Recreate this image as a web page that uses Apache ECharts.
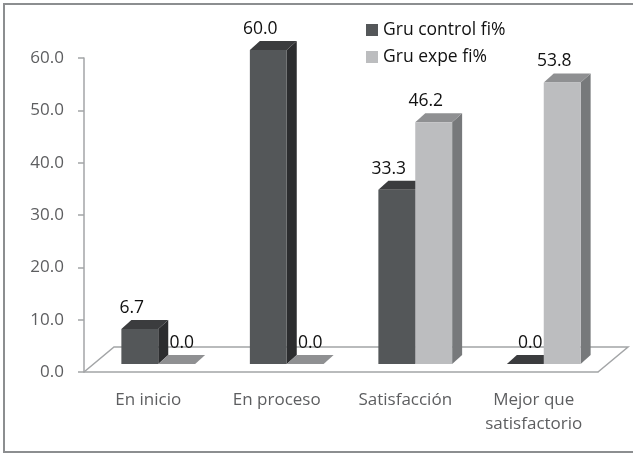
<!DOCTYPE html>
<html>
<head>
<meta charset="utf-8">
<script src="https://cdn.jsdelivr.net/npm/echarts@6/dist/echarts.min.js"></script>
<style>
html,body{margin:0;padding:0;background:#fff;}
#chart{width:633px;height:459px;}
</style>
</head>
<body>
<div id="chart"></div>
<script>
const categories = ['En inicio', 'En proceso', 'Satisfacción', 'Mejor que\nsatisfactorio'];
const seriesNames = ['Gru control fi%', 'Gru expe fi%'];
const controlValues = [6.7, 60.0, 33.3, 0.0];
const expeValues = [0.0, 0.0, 46.2, 53.8];
const yTicks = [0, 10, 20, 30, 40, 50, 60];

const FONT = '"Open Sans", "Noto Sans", sans-serif';
const palettes = [
  { front: '#545759', top: '#3b3c3e', side: '#2c2d2f' },
  { front: '#bcbdbf', top: '#8f9092', side: '#77797b' }
];

function barRender(params, api) {
  const i = api.value(0);
  const v = api.value(1);
  const s = params.seriesIndex;
  const base = api.coord([i, 0]);
  const top = api.coord([i, v]);
  const band = api.size([1, 0])[0];
  const w = band * 0.287;
  const sx = 10, sy = -8;   // bars stand in the middle of the floor
  const dx = 10, dy = -9;   // bar depth
  const x0 = base[0] - w + s * w + sx;
  const yb = base[1] + sy;
  const yt = top[1] + sy;
  const p = palettes[s];
  const children = [
    { type: 'polygon', shape: { points: [[x0 + w, yt], [x0 + w + dx, yt + dy], [x0 + w + dx, yb + dy], [x0 + w, yb]] }, style: { fill: p.side } },
    { type: 'polygon', shape: { points: [[x0, yt], [x0 + dx, yt + dy], [x0 + w + dx, yt + dy], [x0 + w, yt]] }, style: { fill: p.top } },
    { type: 'rect', shape: { x: x0, y: yt, width: w, height: yb - yt }, style: { fill: p.front } },
    { type: 'text', style: { text: v.toFixed(1), x: x0 + w / 2 + (v === 0 ? 5 : -8), y: yt + dy - 12, align: 'center', verticalAlign: 'middle', font: '17.5px ' + FONT, fill: '#111' }, z2: 10 }
  ];
  return { type: 'group', children };
}

function floorRender(params, api) {
  const band = api.size([1, 0])[0];
  const p0 = api.coord([0, 0]);
  const p1 = api.coord([categories.length - 1, 0]);
  const left = p0[0] - band / 2, right = p1[0] + band / 2, y = p0[1];
  return {
    type: 'polyline',
    shape: { points: [[left, y], [left + 30, y - 25], [right + 30, y - 25], [right, y]] },
    style: { stroke: '#a3a5a7', lineWidth: 1.5, fill: null }
  };
}

const chart = echarts.init(document.getElementById('chart'));
chart.setOption({
  animation: false,
  backgroundColor: '#fff',
  graphic: [{
    type: 'rect', shape: { x: 4, y: 4, width: 640, height: 448 },
    style: { fill: null, stroke: '#8c8e90', lineWidth: 2 }, silent: true
  }],
  legend: {
    data: seriesNames.map(n => ({ name: n, icon: 'rect' })),
    orient: 'vertical', left: 361, top: 16,
    itemWidth: 12, itemHeight: 12, itemGap: 9,
    textStyle: { fontFamily: FONT, fontSize: 17.5, lineHeight: 18, color: '#111' }
  },
  grid: { left: 84, right: 35, top: 58, bottom: 87 },
  xAxis: {
    type: 'category', data: categories,
    axisLine: { lineStyle: { color: '#a3a5a7', width: 1.5 } },
    axisTick: { length: 7, lineStyle: { color: '#a3a5a7', width: 1.5 } },
    axisLabel: { margin: 16, fontFamily: FONT, fontSize: 17, color: '#5d5e60', lineHeight: 24 }
  },
  yAxis: {
    type: 'value', min: 0, max: 60, interval: 10,
    axisLine: { show: true, lineStyle: { color: '#a3a5a7', width: 1.5 } },
    axisTick: { show: true, length: 6, lineStyle: { color: '#a3a5a7', width: 1.5 } },
    splitLine: { show: false },
    axisLabel: { margin: 20, fontFamily: FONT, fontSize: 17, color: '#5d5e60', formatter: v => yTicks.includes(v) ? v.toFixed(1) : '' }
  },
  series: [
    { name: seriesNames[0], type: 'custom', renderItem: barRender, itemStyle: { color: palettes[0].front }, data: controlValues.map((v, i) => [i, v]), z: 3 },
    { name: seriesNames[1], type: 'custom', renderItem: barRender, itemStyle: { color: palettes[1].front }, data: expeValues.map((v, i) => [i, v]), z: 3 },
    { type: 'custom', renderItem: floorRender, data: [[0, 0]], z: 1, silent: true }
  ]
});
</script>
</body>
</html>
